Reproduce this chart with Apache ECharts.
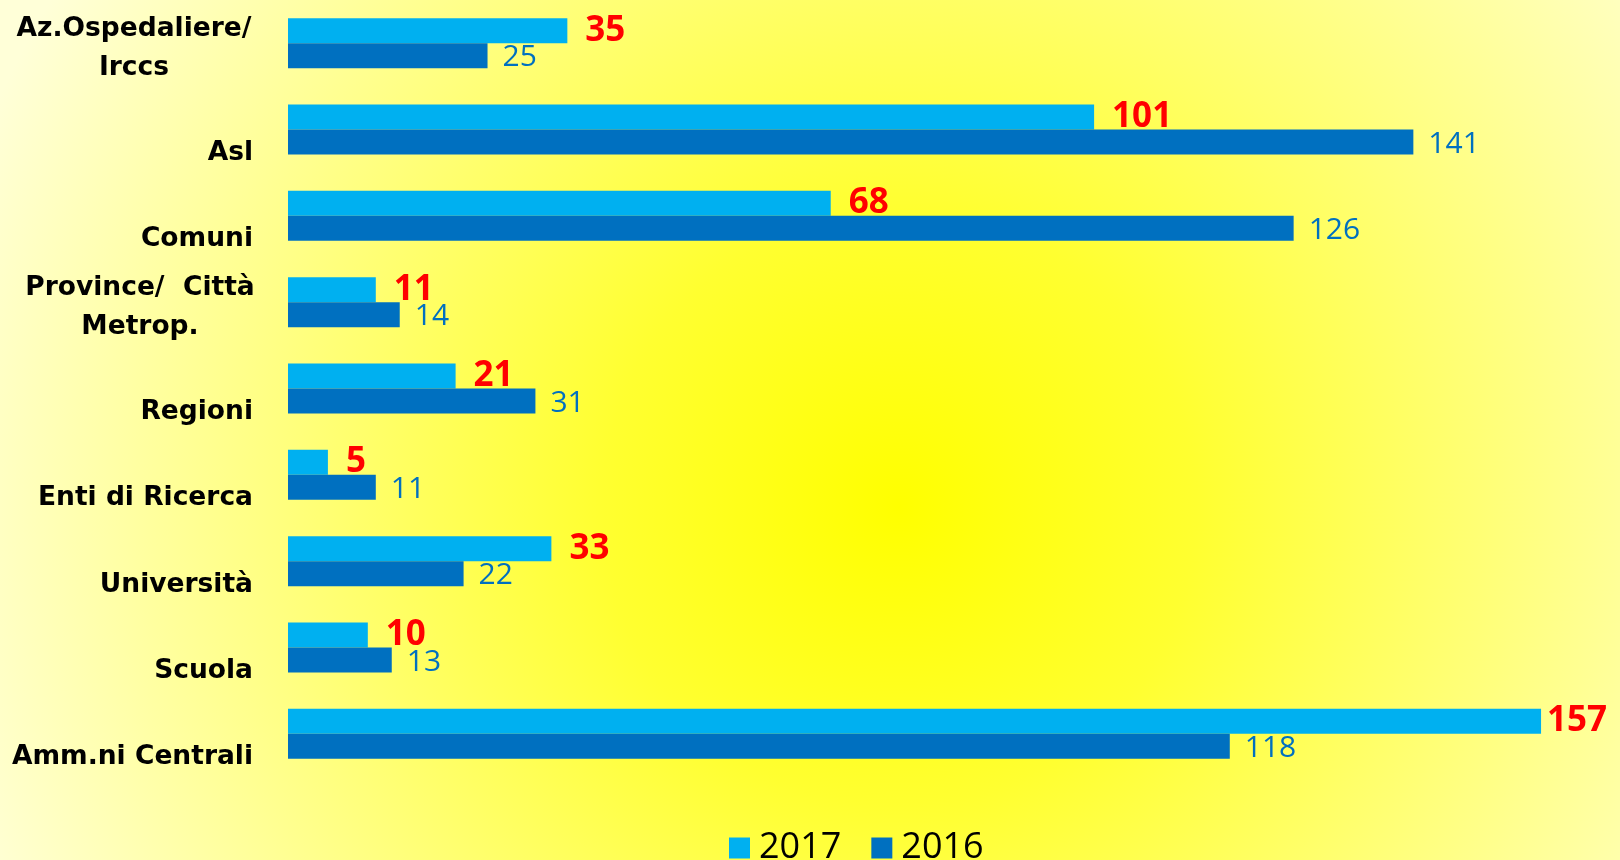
<!DOCTYPE html>
<html>
<head>
<meta charset="utf-8">
<script src="https://cdn.jsdelivr.net/npm/echarts@6/dist/echarts.min.js"></script>
<style>
  html, body { margin: 0; padding: 0; }
  #chart { width: 1620px; height: 860px; }
</style>
</head>
<body>
<div id="chart"></div>
<script>
// dati
var categories = ['Az.Ospedaliere/\nIrccs', 'Asl', 'Comuni', 'Province/  Città\nMetrop.', 'Regioni',
  'Enti di Ricerca', 'Università', 'Scuola', 'Amm.ni Centrali'];
var anni = ['2017', '2016'];
var valori2017 = [35, 101, 68, 11, 21, 5, 33, 10, 157];
var valori2016 = [25, 141, 126, 14, 31, 11, 22, 13, 118];

var catData = categories.map(function (c) {
  if (c.indexOf('\n') >= 0) {
    // etichette su due righe: righe centrate, blocco allineato a destra
    var pad = c.indexOf('Province') === 0 ? 226 : 238;
    return { value: c, textStyle: { align: 'center', padding: [0, pad, 0, 0] } };
  }
  return { value: c };
});

// il 157 sta contro il bordo: etichetta più vicina alla barra
var data2017 = valori2017.map(function (v) {
  return v > 150 ? { value: v, label: { distance: 6 } } : v;
});

var chart = echarts.init(document.getElementById('chart'));
chart.setOption({
  backgroundColor: {
    type: 'radial', x: 0.555, y: 0.59, r: 1.15,
    colorStops: [
      { offset: 0, color: '#FFFF00' },
      { offset: 0.3, color: '#FFFF30' },
      { offset: 1, color: '#FFFFD8' }
    ]
  },
  animation: false,
  legend: {
    data: anni,
    left: 729,
    top: 830,
    padding: 0,
    icon: 'rect',
    itemWidth: 21,
    itemHeight: 21,
    itemGap: 30,
    textStyle: { fontFamily: 'Open Sans', fontSize: 36, color: '#000', padding: [0, 0, 0, 4] }
  },
  grid: { left: 288, right: 55, top: 0, bottom: 83, containLabel: false, outerBoundsMode: 'none' },
  xAxis: {
    type: 'value', min: 0, max: 160, show: false
  },
  yAxis: {
    type: 'category',
    inverse: true,
    data: catData,
    axisLine: { show: false },
    axisTick: { show: false },
    axisLabel: {
      interval: 0,
      margin: 35,
      fontFamily: 'DejaVu Sans',
      fontWeight: 'bold',
      fontSize: 26.5,
      lineHeight: 39,
      color: '#000',
      // riga vuota in testa: le etichette stanno sotto il centro della categoria, come in Excel
      formatter: function (v) {
        var lines = v.split('\n');
        var sp = lines.length > 1 ? '{sp2| }' : '{sp| }';
        return sp + '\n' + lines.map(function (l) { return '{t|' + l + '}'; }).join('\n');
      },
      rich: {
        sp: { fontSize: 1, lineHeight: 47 },
        sp2: { fontSize: 1, lineHeight: 10 },
        t: { fontFamily: 'DejaVu Sans', fontWeight: 'bold', fontSize: 26.5, lineHeight: 39, color: '#000' }
      }
    }
  },
  series: [
    {
      name: '2017',
      type: 'bar',
      data: data2017,
      barWidth: 25,
      barGap: '0%',
      itemStyle: { color: '#00B0F0' },
      label: {
        show: true, position: 'right', distance: 18,
        fontFamily: 'Open Sans', fontWeight: 'bold', fontSize: 35, color: '#FF0000'
      }
    },
    {
      name: '2016',
      type: 'bar',
      data: valori2016,
      barWidth: 25,
      barGap: '0%',
      itemStyle: { color: '#0070C0' },
      label: {
        show: true, position: 'right', distance: 15, offset: [0, 2],
        fontFamily: 'Open Sans', fontSize: 30, color: '#0070C0'
      }
    }
  ]
});
</script>
</body>
</html>
